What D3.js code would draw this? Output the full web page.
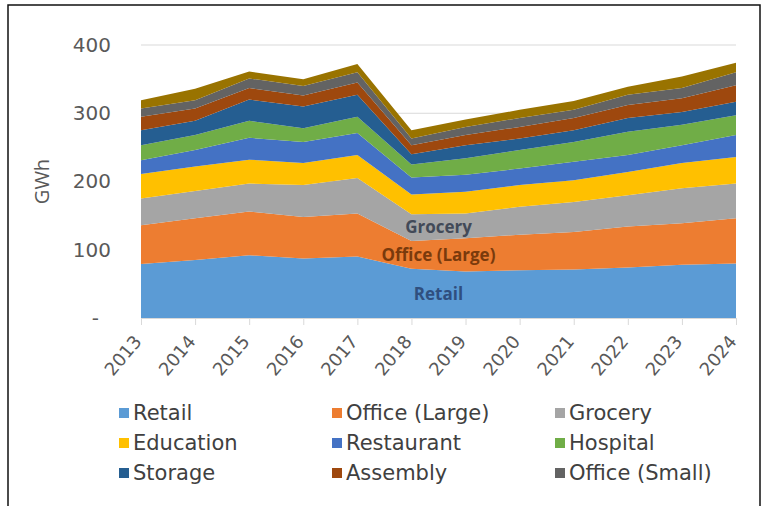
<!DOCTYPE html>
<html lang="en">
  <head>
    <meta charset="UTF-8" />
    <title>Stacked energy by building type</title>
    <style>
      body {
        margin: 0;
        background-color: #fff;
        font-family: "Open Sans", sans-serif;
      }
      svg {
        display: block;
      }
    </style>
  </head>
  <body>
    <svg id="chart" width="778" height="506"></svg>
    <script src="https://d3js.org/d3.v7.min.js"></script>
    <script>
      // values (GWh)
      const years = ["2013", "2014", "2015", "2016", "2017", "2018", "2019", "2020", "2021", "2022", "2023", "2024"];
      const retail = [79, 85, 92, 87, 90, 72, 68, 70, 71, 74, 78, 80];
      const officeLarge = [57, 61, 64, 61, 63, 41, 49, 52, 55, 60, 61, 66];
      const grocery = [39, 40, 41, 47, 52, 39, 36, 41, 44, 46, 51, 51];
      const education = [36, 36, 35, 32, 34, 29, 32, 32, 32, 34, 37, 39];
      const restaurant = [20, 24, 32, 31, 32, 25, 25, 24, 27, 25, 26, 32];
      const hospital = [22, 22, 25, 20, 24, 19, 24, 27, 29, 34, 30, 29];
      const storage = [22, 21, 31, 32, 32, 15, 19, 17, 17, 20, 19, 20];
      const assembly = [20, 18, 17, 16, 18, 13, 15, 17, 18, 19, 20, 24];
      const officeSmall = [12, 12, 14, 14, 15, 10, 12, 13, 12, 15, 15, 19];
      const other = [12, 17, 10, 10, 12, 12, 11, 12, 13, 12, 17, 14];
      const yTicks = [0, 100, 200, 300, 400];

      const series = [
        { name: "Retail", values: retail, color: "#5b9bd5" },
        { name: "Office (Large)", values: officeLarge, color: "#ed7d31" },
        { name: "Grocery", values: grocery, color: "#a5a5a5" },
        { name: "Education", values: education, color: "#ffc000" },
        { name: "Restaurant", values: restaurant, color: "#4472c4" },
        { name: "Hospital", values: hospital, color: "#70ad47" },
        { name: "Storage", values: storage, color: "#255e91" },
        { name: "Assembly", values: assembly, color: "#9e480e" },
        { name: "Office (Small)", values: officeSmall, color: "#636363" },
        { name: "Other", values: other, color: "#997300" },
      ];

      const wide = "DejaVu Sans, sans-serif";
      const svg = d3.select("#chart");

      // outer frame
      svg
        .append("rect")
        .attr("x", 8)
        .attr("y", 5)
        .attr("width", 752)
        .attr("height", 520)
        .attr("fill", "none")
        .attr("stroke", "#111")
        .attr("stroke-width", 1.5);

      const x = d3.scalePoint().domain(years).range([141, 736]);
      const y = d3.scaleLinear().domain([0, 400]).range([318, 45]);

      // gridlines
      svg
        .append("g")
        .selectAll("line")
        .data(yTicks.slice(1))
        .join("line")
        .attr("x1", x.range()[0])
        .attr("x2", x.range()[1])
        .attr("y1", (d) => y(d))
        .attr("y2", (d) => y(d))
        .attr("stroke", "#d9d9d9");

      const rows = years.map((yr, i) => {
        const r = { year: yr };
        series.forEach((s) => (r[s.name] = s.values[i]));
        return r;
      });
      const stacked = d3.stack().keys(series.map((s) => s.name))(rows);

      const area = d3
        .area()
        .x((d) => x(d.data.year))
        .y0((d) => y(d[0]))
        .y1((d) => y(d[1]));

      svg
        .append("g")
        .selectAll("path")
        .data(stacked)
        .join("path")
        .attr("d", area)
        .attr("fill", (d, i) => series[i].color);

      // x axis
      const xAxis = svg
        .append("g")
        .attr("transform", `translate(0,${y(0)})`)
        .call(d3.axisBottom(x).tickSize(7));
      xAxis.select(".domain").attr("stroke", "#d9d9d9");
      xAxis.selectAll(".tick line").attr("stroke", "#d9d9d9");
      xAxis
        .selectAll(".tick text")
        .attr("fill", "#595959")
        .style("font-family", wide)
        .style("font-size", "18px")
        .attr("text-anchor", "end")
        .attr("y", 0)
        .attr("dy", 0)
        .attr("transform", "translate(1,24) rotate(-50)");

      // y axis labels
      const yAxis = svg
        .append("g")
        .attr("transform", "translate(111,0)")
        .call(
          d3
            .axisLeft(y)
            .tickValues(yTicks)
            .tickSize(0)
            .tickPadding(0)
            .tickFormat((d) => (d === 0 ? "-" : d))
        );
      yAxis.select(".domain").remove();
      yAxis
        .selectAll(".tick text")
        .attr("fill", "#595959")
        .style("font-family", wide)
        .style("font-size", "20px")
        .attr("dx", (d) => (d === 0 ? "-12px" : 0));

      svg
        .append("text")
        .attr("transform", `translate(49,${y(200)}) rotate(-90)`)
        .attr("text-anchor", "middle")
        .attr("fill", "#595959")
        .style("font-size", "20px")
        .text("GWh");

      // data labels inside the areas
      const labelAt = 5.5;
      const lx = x.range()[0] + (labelAt * (x.range()[1] - x.range()[0])) / (years.length - 1);
      const labels = [
        { idx: 0, text: "Retail", color: "#2f4f7f" },
        { idx: 1, text: "Office (Large)", color: "#7a3a0c" },
        { idx: 2, text: "Grocery", color: "#424a58" },
      ];
      labels.forEach((l) => {
        const lo = stacked[l.idx];
        const mid = (lo[5][0] + lo[5][1] + lo[6][0] + lo[6][1]) / 4;
        svg
          .append("text")
          .attr("x", lx)
          .attr("y", y(mid))
          .attr("dy", "0.35em")
          .attr("text-anchor", "middle")
          .attr("fill", l.color)
          .style("font-size", "17px")
          .style("font-weight", "bold")
          .text(l.text);
      });

      // legend
      const legendItems = series.slice(0, 9);
      const colX = [119, 332, 555];
      const legend = svg
        .append("g")
        .selectAll("g")
        .data(legendItems)
        .join("g")
        .attr("transform", (d, i) => `translate(${colX[i % 3]},${413 + Math.floor(i / 3) * 30})`);
      legend
        .append("rect")
        .attr("x", 0)
        .attr("y", -5)
        .attr("width", 10)
        .attr("height", 10)
        .attr("fill", (d) => d.color);
      legend
        .append("text")
        .attr("x", 14)
        .attr("dy", "0.35em")
        .attr("fill", "#404040")
        .style("font-family", wide)
        .style("font-size", "21px")
        .text((d) => d.name);
    </script>
  </body>
</html>
